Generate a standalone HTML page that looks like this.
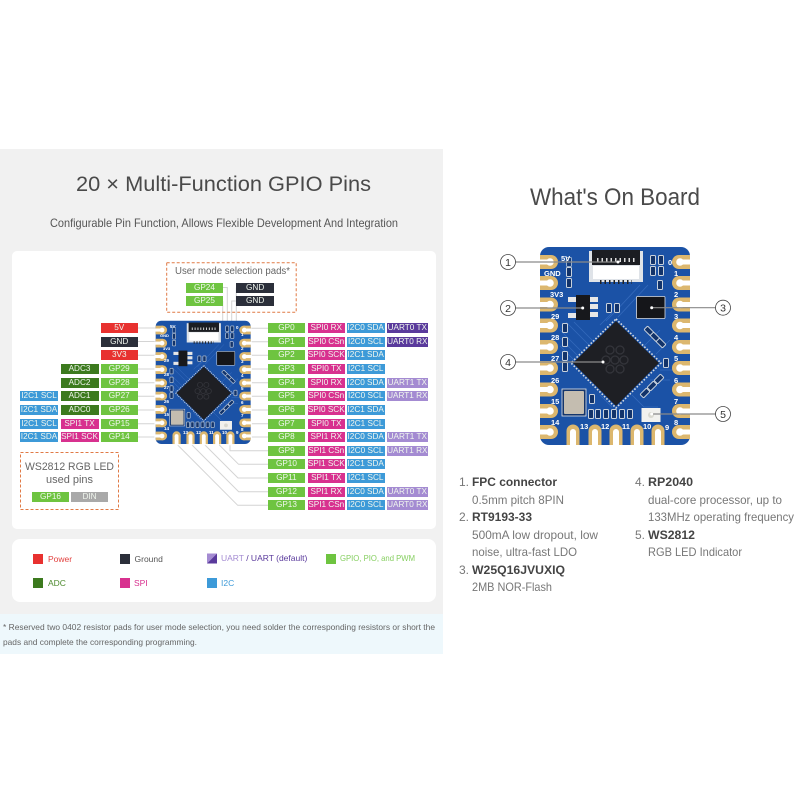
<!DOCTYPE html>
<html><head><meta charset="utf-8"><style>
html,body{margin:0;padding:0;background:#fff}
#p{position:relative;width:800px;height:800px;overflow:hidden;font-family:"Liberation Sans",sans-serif;background:#fff;filter:blur(.3px)}
#p>svg{position:absolute;left:0;top:0}
.a{position:absolute;white-space:nowrap}
i{position:absolute;font-style:normal;height:10px;line-height:10px;text-align:center;font-size:8.2px;color:#f0f6ee;white-space:nowrap;overflow:hidden}
.r{background:#e8312f}.k{background:#2b2f3a}.g{background:#6ec440}.d{background:#3c7a1e}.s{background:#d8318f}.b{background:#3d9ad8}.u{background:#5a3a9c}.l{background:#a48bd2}.y{background:#a9a9a9}
.c0{left:100.5px;width:37.5px}.c1{left:60.5px;width:38px}.c2{left:20px;width:38px}
.e0{left:267.7px;width:37.5px}.e1{left:307.5px;width:37.5px}.e2{left:346.8px;width:37.8px}.e3{left:386.8px;width:41px}
</style></head><body><div id="p">
<div class="a" style="left:0;top:149px;width:443px;height:465px;background:#f1f1f1"></div>
<div class="a" style="left:0;top:614px;width:443px;height:40px;background:#eef8fc"></div>
<div class="a" style="left:12px;top:251px;width:424px;height:278px;background:#fff;border-radius:5px"></div>
<div class="a" style="left:12px;top:539px;width:424px;height:63px;background:#fff;border-radius:8px"></div>

<svg width="800" height="800" viewBox="0 0 800 800">
<defs>
<g id="pl"><circle cx="551" cy="0" r="7" fill="#dcb76e"/><rect x="540" y="-7" width="11" height="14" fill="#dcb76e"/><circle cx="550" cy="0" r="3.800" fill="#fff"/><rect x="538" y="-2.500" width="12" height="5" fill="#fff"/></g>
<g id="pr"><circle cx="679" cy="0" r="7" fill="#dcb76e"/><rect x="679" y="-7" width="11" height="14" fill="#dcb76e"/><circle cx="680" cy="0" r="3.800" fill="#fff"/><rect x="680" y="-2.500" width="12" height="5" fill="#fff"/></g>
<g id="pb"><circle cx="0" cy="431" r="6.500" fill="#dcb76e"/><rect x="-6.500" y="431" width="13" height="14" fill="#dcb76e"/><circle cx="0" cy="432" r="3" fill="#fff"/><rect x="-3" y="432" width="6" height="15" fill="#fff"/></g>
<g id="rs"><rect x="-2.500" y="-4.500" width="5" height="9" rx="1" fill="#12336a" stroke="#c9d2dc" stroke-width="1"/></g>
<g id="bd">
<rect x="540" y="247" width="150" height="198" rx="9" fill="#1b52a6"/>
<g fill="none" stroke="#3f74c4" stroke-width=".8" opacity=".7">
<path d="M560 330l22 22M560 338l22 22M560 346l18 18M566 322l24 24M574 322l20 20M640 285l-26 28-8 8M648 285l-30 32M600 325l12-12M660 330l-18 18M670 340l-14 14M600 395l12 12M590 380l14 14M632 395l12 12 14 0M650 380l20 0M660 370l20 0"/>
</g>
<g><use href="#pl" y="262"/><use href="#pl" y="283"/><use href="#pl" y="304.5"/><use href="#pl" y="325.5"/><use href="#pl" y="347"/><use href="#pl" y="368"/><use href="#pl" y="389.5"/><use href="#pl" y="411"/><use href="#pl" y="432"/>
<use href="#pr" y="262"/><use href="#pr" y="283"/><use href="#pr" y="304.5"/><use href="#pr" y="325.5"/><use href="#pr" y="347"/><use href="#pr" y="368"/><use href="#pr" y="389.5"/><use href="#pr" y="411"/><use href="#pr" y="432"/>
<use href="#pb" x="573"/><use href="#pb" x="595"/><use href="#pb" x="616"/><use href="#pb" x="637"/><use href="#pb" x="658"/></g>
<rect x="589" y="251" width="54" height="31" fill="#dfe3e8"/>
<rect x="592" y="250" width="48" height="15" fill="#1b1d22"/>
<path d="M597 260h38" stroke="#ddd" stroke-width="4" stroke-dasharray="1.500 3"/>
<rect x="593" y="266" width="46" height="13" fill="#fff"/>
<path d="M600 282h32" stroke="#222" stroke-width="4" stroke-dasharray="1.500 3"/>
<g><use href="#rs" x="569" y="272"/><use href="#rs" x="569" y="283"/><use href="#rs" x="569" y="262" opacity=".7"/>
<use href="#rs" x="653" y="260"/><use href="#rs" x="661" y="260"/><use href="#rs" x="653" y="271"/><use href="#rs" x="661" y="271"/><use href="#rs" x="660" y="285"/>
<use href="#rs" x="609" y="308"/><use href="#rs" x="617" y="308"/>
<use href="#rs" x="565" y="328"/><use href="#rs" x="565" y="342"/><use href="#rs" x="565" y="356"/><use href="#rs" x="565" y="367"/>
<use href="#rs" x="666" y="363"/>
<use href="#rs" x="592" y="399"/>
<use href="#rs" x="591" y="414"/><use href="#rs" x="598" y="414"/><use href="#rs" x="606" y="414"/><use href="#rs" x="614" y="414"/><use href="#rs" x="622" y="414"/><use href="#rs" x="630" y="414"/>
<use href="#rs" x="649" y="331" transform="rotate(-45 649 331)"/><use href="#rs" x="655" y="337" transform="rotate(-45 655 337)"/><use href="#rs" x="661" y="343" transform="rotate(-45 661 343)"/>
<use href="#rs" x="645" y="393" transform="rotate(45 645 393)"/><use href="#rs" x="652" y="386" transform="rotate(45 652 386)"/><use href="#rs" x="659" y="379" transform="rotate(45 659 379)"/></g>
<g fill="#e7e7e7"><rect x="568" y="297" width="8" height="5"/><rect x="568" y="313" width="8" height="5"/><rect x="590" y="297" width="8" height="5"/><rect x="590" y="304" width="8" height="5"/><rect x="590" y="312" width="8" height="5"/></g>
<rect x="576" y="295" width="14" height="25" fill="#17181c"/>
<rect x="636.500" y="296.500" width="28.500" height="22" rx="1" fill="#15161a" stroke="#d8dde4" stroke-width=".8"/>
<polygon points="616,321 659,363 616,406 573,363" fill="#1e1f24"/>
<polygon points="616,319 661,363 616,408 571,363" fill="none" stroke="#d9dde2" stroke-width="1.600" stroke-dasharray="1.600 1.700"/>
<g fill="none" stroke="#34353b" stroke-width="1.300"><circle cx="610" cy="350" r="4"/><circle cx="620" cy="350" r="4"/><circle cx="606" cy="360" r="4"/><circle cx="615" cy="360" r="4"/><circle cx="624" cy="360" r="4"/><circle cx="610" cy="369" r="4"/><circle cx="620" cy="369" r="4"/></g>
<rect x="562" y="389" width="24" height="27" fill="#14366d" stroke="#e8e8e8" stroke-width=".8"/>
<rect x="564" y="391" width="20" height="23" rx="1" fill="#c4bdb0"/>
<rect x="641.500" y="408" width="19" height="14" fill="#f1f1ee"/>
<circle cx="651" cy="415" r="3" fill="#d8d8d0"/>
</g>
</defs>

<g fill="none" stroke="#d4d4d4" stroke-width="1">
<path d="M138 328h18M138 341.500h18M138 355.300h18M138 369h18M138 382.700h18M138 396.300h18M138 410h18M138 423.700h18M138 437h18"/>
<path d="M250 328.300h18M250 341.700h18M250 355.300h18M250 369h18M250 382.700h18M250 396.300h18M250 410h18M250 423.700h18M250 437h18"/>
<path d="M230 440V450.700H268M217.300 443l21.300 21.300H268M203 443l35 35H268M190 443l48.700 48.700H268M175.700 443l62 62.300H268"/>
<path d="M223 287.500h4.300V327M223 301h-0.300V327M236.300 287.500v40M236.300 301h-4.600v26"/>
</g>

<use href="#bd" transform="translate(155.700 320.700) scale(.633 .623) translate(-540 -247)"/>
<g fill="#fff" font-family="Liberation Sans" font-weight="bold" font-size="4.500">
<text x="170" y="328">5V</text><text x="160" y="337" font-size="4">GND</text><text x="163" y="350" font-size="4">3V3</text><text x="164" y="362">29</text><text x="164" y="376">28</text><text x="164" y="389">27</text><text x="164" y="403">26</text><text x="164" y="416">15</text><text x="164" y="430">14</text><text x="183" y="434">13</text><text x="196" y="434">12</text><text x="209" y="434">11</text><text x="222" y="434">10</text><text x="236" y="434">9</text>
<text x="236" y="329">0</text><text x="241" y="336">1</text><text x="241" y="350">2</text><text x="241" y="363">3</text><text x="241" y="377">4</text><text x="241" y="390">5</text><text x="241" y="404">6</text><text x="241" y="417">7</text><text x="241" y="431">8</text>
</g>

<use href="#bd"/>
<g fill="#fff" font-family="Liberation Sans" font-weight="bold" font-size="7.500">
<text x="561" y="261">5V</text><text x="544" y="276">GND</text><text x="550" y="297">3V3</text><text x="551" y="319">29</text><text x="551" y="340">28</text><text x="551" y="361">27</text><text x="551" y="383">26</text><text x="551" y="404">15</text><text x="551" y="425">14</text>
<text x="580" y="429">13</text><text x="601" y="429">12</text><text x="622" y="429">11</text><text x="643" y="429">10</text><text x="665" y="430">9</text>
<text x="668" y="265">0</text><text x="674" y="276">1</text><text x="674" y="297">2</text><text x="674" y="319">3</text><text x="674" y="340">4</text><text x="674" y="361">5</text><text x="674" y="383">6</text><text x="674" y="404">7</text><text x="674" y="425">8</text>
</g>

<g stroke="#8a8a8a" stroke-width="1.200" fill="#fff">
<path d="M515 262H618M515 308H582.700M716 307.700H651.700M515 362H603M716 414H651.700" fill="none"/>
<circle cx="508" cy="262" r="7.500" stroke="#444" stroke-width=".8"/><circle cx="508" cy="308" r="7.500" stroke="#444" stroke-width=".8"/><circle cx="723" cy="307.700" r="7.500" stroke="#444" stroke-width=".8"/><circle cx="508" cy="362" r="7.500" stroke="#444" stroke-width=".8"/><circle cx="723" cy="414" r="7.500" stroke="#444" stroke-width=".8"/>
<circle cx="618" cy="262" r="1.500" stroke="none"/><circle cx="582.700" cy="308" r="1.500" stroke="none"/><circle cx="651.700" cy="307.700" r="1.500" stroke="none"/><circle cx="603" cy="362" r="1.500" stroke="none"/><circle cx="651.700" cy="414" r="1.500" stroke="none"/>
</g>
<g font-family="Liberation Sans" font-size="10.500" fill="#333" text-anchor="middle"><text x="508" y="266">1</text><text x="508" y="312">2</text><text x="723" y="311.500">3</text><text x="508" y="366">4</text><text x="723" y="418">5</text></g>

<g fill="none" stroke="#e07a45" stroke-width="1" stroke-dasharray="3 2"><rect x="166.700" y="262.700" width="129.500" height="49.500"/><rect x="20.500" y="452.500" width="98" height="57"/></g>
<polygon points="207,553.500 217,553.500 207,563.500" fill="#a48bd2"/><polygon points="217,553.500 217,563.500 207,563.500" fill="#5a3a9c"/>

<g font-family="Liberation Sans">
<text x="76" y="191" font-size="21" fill="#4a4a4a" textLength="295" lengthAdjust="spacingAndGlyphs">20 × Multi-Function GPIO Pins</text>
<text x="50" y="227" font-size="12" fill="#555" textLength="348" lengthAdjust="spacingAndGlyphs">Configurable Pin Function, Allows Flexible Development And Integration</text>
<text x="530" y="205" font-size="24" fill="#4a4a4a" textLength="170" lengthAdjust="spacingAndGlyphs">What's On Board</text>
<text x="175" y="274" font-size="10" fill="#666" textLength="115" lengthAdjust="spacingAndGlyphs">User mode selection pads*</text>
<text x="25" y="470" font-size="11" fill="#666" textLength="89" lengthAdjust="spacingAndGlyphs">WS2812 RGB LED</text>
<text x="46" y="483" font-size="11" fill="#666" textLength="47" lengthAdjust="spacingAndGlyphs">used pins</text>

<g font-size="8.500">
<text x="48" y="562" fill="#e2413f">Power</text>
<text x="134.500" y="562" fill="#555">Ground</text>
<text x="221" y="561" fill="#a48bd2">UART<tspan fill="#5a3a9c"> / UART (default)</tspan></text>
<text x="340" y="561" fill="#86cf60" textLength="75" lengthAdjust="spacingAndGlyphs">GPIO, PIO, and PWM</text>
<text x="48" y="586" fill="#4d8a2e">ADC</text>
<text x="134" y="586" fill="#d8318f">SPI</text>
<text x="221" y="586" fill="#3d9ad8">I2C</text>
</g>
<text x="3" y="630" font-size="8.500" fill="#666" textLength="432" lengthAdjust="spacingAndGlyphs">* Reserved two 0402 resistor pads for user mode selection, you need solder the corresponding resistors or short the</text>
<text x="3" y="645" font-size="8.500" fill="#666" textLength="194" lengthAdjust="spacingAndGlyphs">pads and complete the corresponding programming.</text>

<g font-size="12" fill="#777">
<text x="459" y="486">1.</text><text x="459" y="521">2.</text><text x="459" y="574">3.</text><text x="635" y="486">4.</text><text x="635" y="539">5.</text>
<g font-weight="bold" fill="#444">
<text x="472" y="486" textLength="85" lengthAdjust="spacingAndGlyphs">FPC connector</text>
<text x="472" y="521" textLength="60" lengthAdjust="spacingAndGlyphs">RT9193-33</text>
<text x="472" y="574" textLength="93" lengthAdjust="spacingAndGlyphs">W25Q16JVUXIQ</text>
<text x="648" y="486" textLength="45" lengthAdjust="spacingAndGlyphs">RP2040</text>
<text x="648" y="539" textLength="47" lengthAdjust="spacingAndGlyphs">WS2812</text>
</g>
<text x="472" y="504" textLength="92" lengthAdjust="spacingAndGlyphs">0.5mm pitch 8PIN</text>
<text x="472" y="539" textLength="126" lengthAdjust="spacingAndGlyphs">500mA low dropout, low</text>
<text x="472" y="556" textLength="105" lengthAdjust="spacingAndGlyphs">noise, ultra-fast LDO</text>
<text x="472" y="591" textLength="80" lengthAdjust="spacingAndGlyphs">2MB NOR-Flash</text>
<text x="648" y="504" textLength="134" lengthAdjust="spacingAndGlyphs">dual-core processor, up to</text>
<text x="648" y="521" textLength="146" lengthAdjust="spacingAndGlyphs">133MHz operating frequency</text>
<text x="648" y="556" textLength="94" lengthAdjust="spacingAndGlyphs">RGB LED Indicator</text>
</g>
</g>
</svg>

<div class="a r" style="left:33px;top:553.500px;width:10px;height:10px"></div>
<div class="a k" style="left:120px;top:553.500px;width:10px;height:10px"></div>
<div class="a g" style="left:325.500px;top:553.500px;width:10px;height:10px"></div>
<div class="a d" style="left:33px;top:577.500px;width:10px;height:10px"></div>
<div class="a s" style="left:120px;top:577.500px;width:10px;height:10px"></div>
<div class="a b" style="left:207px;top:577.500px;width:10px;height:10px"></div>

<i class="g" style="left:185.700px;top:283px;width:37.500px">GP24</i>
<i class="g" style="left:185.700px;top:296px;width:37.500px">GP25</i>
<i class="k" style="left:236.300px;top:283px;width:37.700px">GND</i>
<i class="k" style="left:236.300px;top:296px;width:37.700px">GND</i>
<i class="g" style="left:32px;top:491.500px;width:37px">GP16</i>
<i class="y" style="left:71px;top:491.500px;width:37px">DIN</i>

<i class="r c0" style="top:323px">5V</i>
<i class="k c0" style="top:336.500px">GND</i>
<i class="r c0" style="top:350.300px">3V3</i>
<i class="g c0" style="top:364px">GP29</i><i class="d c1" style="top:364px">ADC3</i>
<i class="g c0" style="top:377.700px">GP28</i><i class="d c1" style="top:377.700px">ADC2</i>
<i class="g c0" style="top:391.300px">GP27</i><i class="d c1" style="top:391.300px">ADC1</i><i class="b c2" style="top:391.300px">I2C1 SCL</i>
<i class="g c0" style="top:405px">GP26</i><i class="d c1" style="top:405px">ADC0</i><i class="b c2" style="top:405px">I2C1 SDA</i>
<i class="g c0" style="top:418.700px">GP15</i><i class="s c1" style="top:418.700px">SPI1 TX</i><i class="b c2" style="top:418.700px">I2C1 SCL</i>
<i class="g c0" style="top:432px">GP14</i><i class="s c1" style="top:432px">SPI1 SCK</i><i class="b c2" style="top:432px">I2C1 SDA</i>

<i class="g e0" style="top:323.300px">GP0</i><i class="s e1" style="top:323.300px">SPI0 RX</i><i class="b e2" style="top:323.300px">I2C0 SDA</i><i class="u e3" style="top:323.300px">UART0 TX</i>
<i class="g e0" style="top:336.700px">GP1</i><i class="s e1" style="top:336.700px">SPI0 CSn</i><i class="b e2" style="top:336.700px">I2C0 SCL</i><i class="u e3" style="top:336.700px">UART0 RX</i>
<i class="g e0" style="top:350.300px">GP2</i><i class="s e1" style="top:350.300px">SPI0 SCK</i><i class="b e2" style="top:350.300px">I2C1 SDA</i>
<i class="g e0" style="top:364px">GP3</i><i class="s e1" style="top:364px">SPI0 TX</i><i class="b e2" style="top:364px">I2C1 SCL</i>
<i class="g e0" style="top:377.700px">GP4</i><i class="s e1" style="top:377.700px">SPI0 RX</i><i class="b e2" style="top:377.700px">I2C0 SDA</i><i class="l e3" style="top:377.700px">UART1 TX</i>
<i class="g e0" style="top:391.300px">GP5</i><i class="s e1" style="top:391.300px">SPI0 CSn</i><i class="b e2" style="top:391.300px">I2C0 SCL</i><i class="l e3" style="top:391.300px">UART1 RX</i>
<i class="g e0" style="top:405px">GP6</i><i class="s e1" style="top:405px">SPI0 SCK</i><i class="b e2" style="top:405px">I2C1 SDA</i>
<i class="g e0" style="top:418.700px">GP7</i><i class="s e1" style="top:418.700px">SPI0 TX</i><i class="b e2" style="top:418.700px">I2C1 SCL</i>
<i class="g e0" style="top:432px">GP8</i><i class="s e1" style="top:432px">SPI1 RX</i><i class="b e2" style="top:432px">I2C0 SDA</i><i class="l e3" style="top:432px">UART1 TX</i>
<i class="g e0" style="top:445.700px">GP9</i><i class="s e1" style="top:445.700px">SPI1 CSn</i><i class="b e2" style="top:445.700px">I2C0 SCL</i><i class="l e3" style="top:445.700px">UART1 RX</i>
<i class="g e0" style="top:459.300px">GP10</i><i class="s e1" style="top:459.300px">SPI1 SCK</i><i class="b e2" style="top:459.300px">I2C1 SDA</i>
<i class="g e0" style="top:473px">GP11</i><i class="s e1" style="top:473px">SPI1 TX</i><i class="b e2" style="top:473px">I2C1 SCL</i>
<i class="g e0" style="top:486.700px">GP12</i><i class="s e1" style="top:486.700px">SPI1 RX</i><i class="b e2" style="top:486.700px">I2C0 SDA</i><i class="l e3" style="top:486.700px">UART0 TX</i>
<i class="g e0" style="top:500.300px">GP13</i><i class="s e1" style="top:500.300px">SPI1 CSn</i><i class="b e2" style="top:500.300px">I2C0 SCL</i><i class="l e3" style="top:500.300px">UART0 RX</i>
</div></body></html>
